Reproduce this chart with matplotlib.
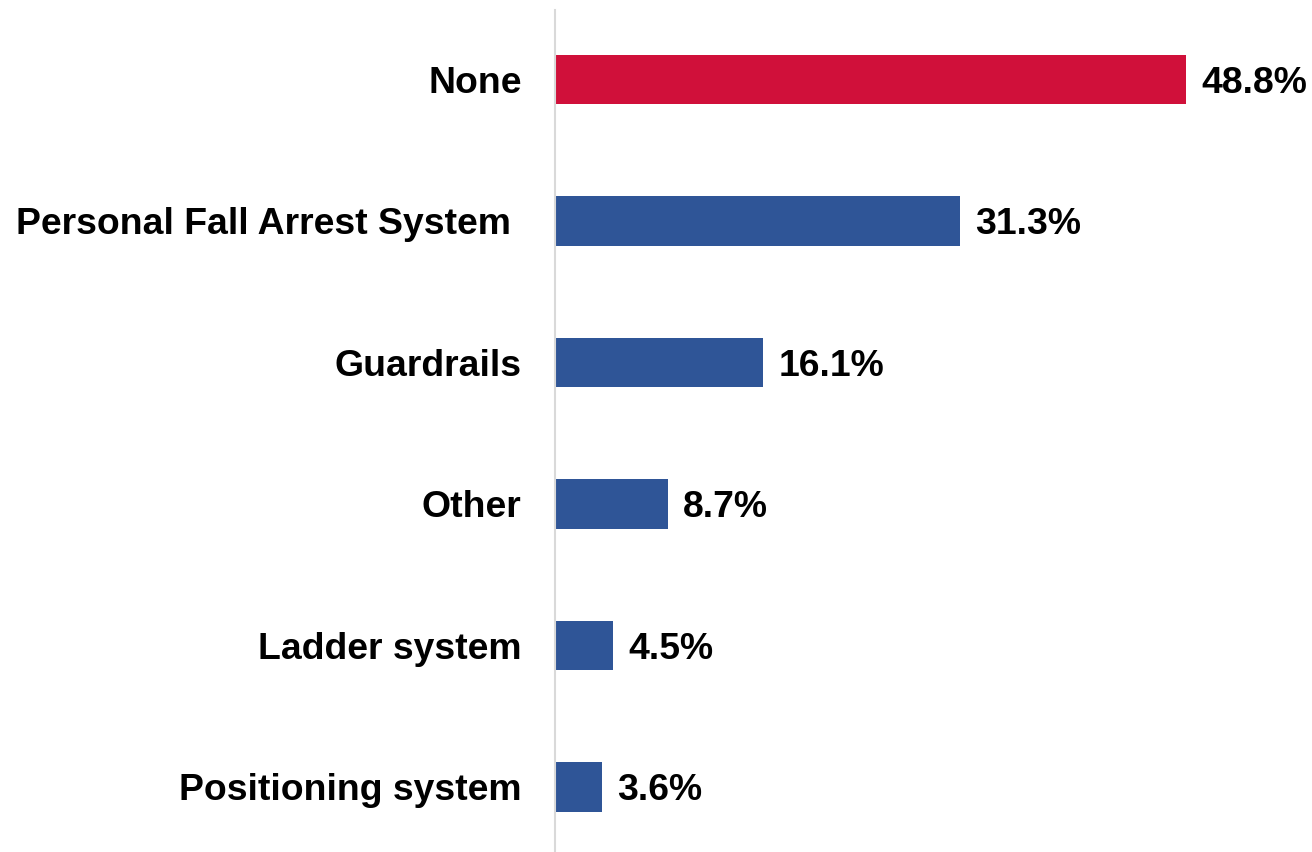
import matplotlib.pyplot as plt

plt.rcParams['font.family'] = ['Liberation Sans', 'DejaVu Sans']

categories = ["None", "Personal Fall Arrest System ", "Guardrails", "Other",
              "Ladder system", "Positioning system"]
values = [48.8, 31.3, 16.1, 8.7, 4.5, 3.6]
colors = ["#D0103A", "#2F5597", "#2F5597", "#2F5597", "#2F5597", "#2F5597"]

fig = plt.figure(figsize=(13.12, 8.52), dpi=100)
ax = fig.add_axes([555 / 1312, 0, 750 / 1312, 842 / 852])

y = list(range(len(categories)))
ax.barh(y, values, height=0.35, color=colors)
ax.set_xlim(0, 58)
ax.set_ylim(5.46, -0.49)

for yi, v in zip(y, values):
    ax.text(v + 1.2, yi, f"{v:.1f}%", va="center_baseline", ha="left",
            fontsize=26.9, fontweight="bold", color="black")

ax.set_yticks(y)
ax.set_yticklabels(categories, fontsize=26.9, fontweight="bold")
ax.tick_params(axis="y", length=0, pad=24)
ax.set_xticks([])

for s in ["top", "right", "bottom"]:
    ax.spines[s].set_visible(False)
ax.spines["left"].set_color("#d9d9d9")
ax.spines["left"].set_linewidth(1.5)

fig.savefig("out.png", dpi=100)
